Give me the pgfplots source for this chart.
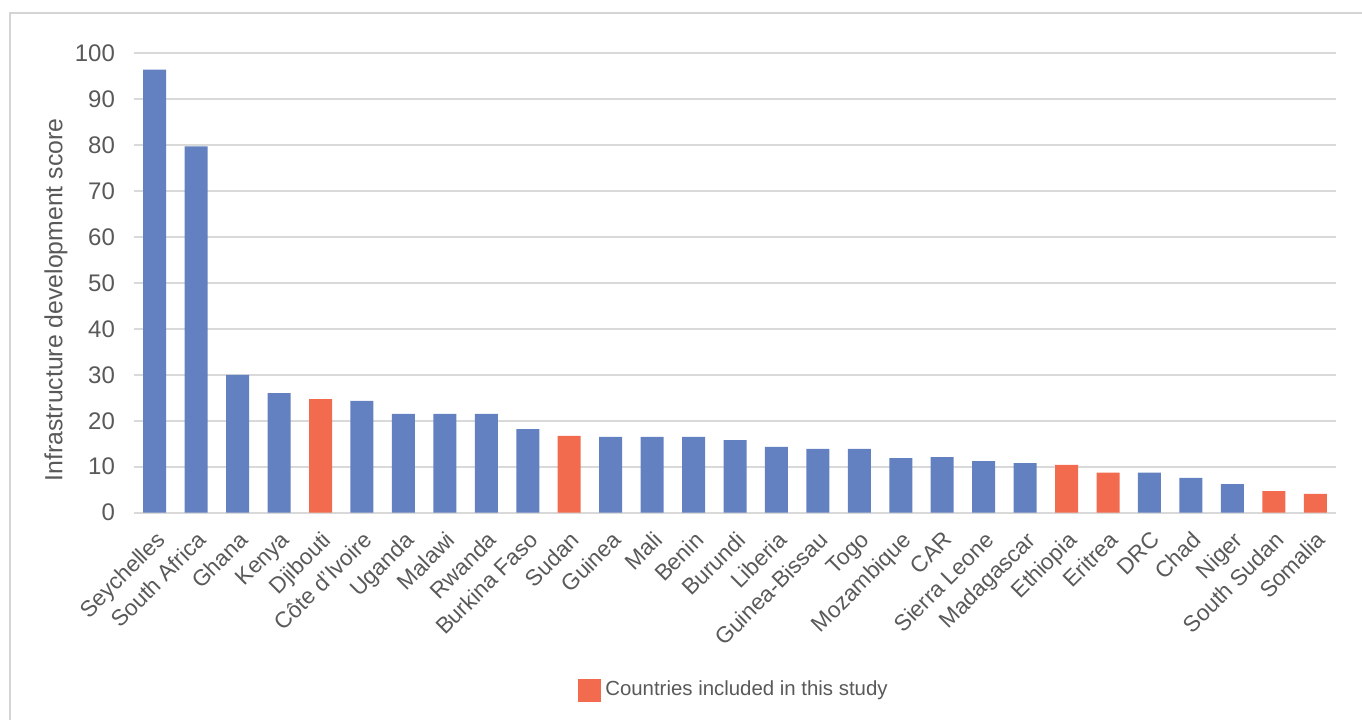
\documentclass[border=0pt]{standalone}
\usepackage{pgfplots}
\pgfplotsset{compat=1.18}
\usepackage{fontspec}
\setmainfont{Liberation Sans}
\definecolor{barblue}{RGB}{99,129,193}
\definecolor{barred}{RGB}{242,107,79}
\definecolor{gridgray}{RGB}{217,217,217}
\definecolor{txtgray}{RGB}{89,89,89}
\definecolor{framegray}{RGB}{212,212,212}
\begin{document}
\begin{tikzpicture}
\useasboundingbox (0,0) rectangle (681pt,360pt);
\draw[framegray, line width=1.2pt] (5pt,0) -- (5pt,353.5pt) -- (690pt,353.5pt);
\begin{axis}[
  at={(67pt,103.65pt)}, anchor=south west,
  scale only axis, width=601pt, height=229.85pt,
  ybar, bar width=11.5pt,
  ymin=0, ymax=100, ytick={0,10,...,100},
  xmin=-0.5, xmax=28.5,
  xtick={0,...,28},
  xticklabels={Seychelles,South Africa,Ghana,Kenya,Djibouti,Côte d’Ivoire,Uganda,Malawi,Rwanda,Burkina Faso,Sudan,Guinea,Mali,Benin,Burundi,Liberia,Guinea-Bissau,Togo,Mozambique,CAR,Sierra Leone,Madagascar,Ethiopia,Eritrea,DRC,Chad,Niger,South Sudan,Somalia},
  xticklabel style={rotate=45, anchor=north east, inner sep=1pt, xshift=-5pt, yshift=-5pt, font=\fontsize{11.3pt}{13pt}\selectfont},
  yticklabel style={xshift=-6pt, font=\fontsize{12pt}{14pt}\selectfont},
  ticklabel style={text=txtgray},
  /pgf/number format/assume math mode=true,
  major tick length=0pt,
  ymajorgrids, grid style={gridgray, line width=1pt},
  axis x line*=bottom, axis y line*=left,
  x axis line style={gridgray, line width=1pt, -},
  y axis line style={draw=none},
  ylabel={Infrastructure development score},
  every axis y label/.style={at={(axis description cs:-0.065,0.463)}, rotate=90, anchor=center, font=\fontsize{12.4pt}{14pt}\selectfont, text=txtgray},
  legend style={at={(axis description cs:0.5,-0.3857)}, anchor=center, draw=none, font=\fontsize{10.2pt}{12pt}\selectfont, text=txtgray, inner sep=0pt},
  legend image code/.code={\fill[#1] (-3pt,-5.75pt) rectangle (8.5pt,5.75pt);},
]
\addplot[fill=barblue, draw=none, bar shift=0pt, forget plot] coordinates {
(0,96.4) (1,79.7) (2,30.0) (3,26.0) (5,24.3) (6,21.5) (7,21.5) (8,21.5) (9,18.2)
(11,16.5) (12,16.5) (13,16.5) (14,15.8) (15,14.3) (16,13.9) (17,13.9) (18,11.9) (19,12.1)
(20,11.2) (21,10.8) (24,8.7) (25,7.6) (26,6.2)
};
\addplot[fill=barred, draw=none, bar shift=0pt] coordinates {
(4,24.7) (10,16.7) (22,10.4) (23,8.7) (27,4.7) (28,4.1)
};
\addlegendentry{Countries included in this study}
\end{axis}
\end{tikzpicture}
\end{document}
